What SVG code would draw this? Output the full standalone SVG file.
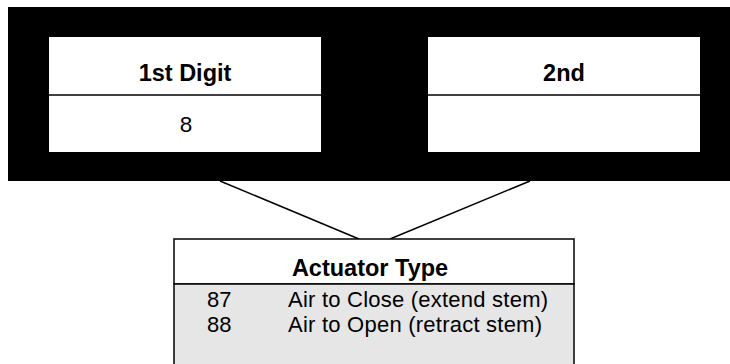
<svg xmlns="http://www.w3.org/2000/svg" width="730" height="364" viewBox="0 0 730 364">
<style>
.b{font-family:"Liberation Sans",Arial,sans-serif;font-weight:bold;font-size:23.5px;fill:#000}
.r{font-family:"Liberation Sans",Arial,sans-serif;font-size:22.5px;fill:#000}
.s{font-family:"Liberation Sans",Arial,sans-serif;font-size:22px;fill:#000}
.box{stroke:#000;stroke-width:1.5}
.ln{stroke:#000;stroke-width:1.5;fill:none}
</style>
<rect x="8" y="7" width="730" height="174" fill="#000"/>
<g id="connectors">
<line class="ln" x1="220" y1="181" x2="359" y2="239"/>
<line class="ln" x1="530" y1="181" x2="390" y2="239"/>
</g>
<g id="digit1">
<rect x="49" y="37" width="272" height="115" fill="#fff"/>
<line class="ln" x1="49" y1="95" x2="321" y2="95"/>
<text class="b" x="185" y="81" text-anchor="middle">1st Digit</text>
<text class="r" x="186" y="132" text-anchor="middle">8</text>
</g>
<g id="digit2">
<rect x="428" y="37" width="272" height="115" fill="#fff"/>
<line class="ln" x1="428" y1="95" x2="700" y2="95"/>
<text class="b" x="564" y="81" text-anchor="middle">2nd</text>
</g>
<g id="actuator">
<rect class="box" x="174" y="239" width="400" height="45" fill="#fff"/>
<rect class="box" x="174" y="284" width="400" height="90" fill="#e6e6e6"/>
<text class="b" x="370" y="276" text-anchor="middle">Actuator Type</text>
<text class="s" x="207" y="307">87</text>
<text class="s" x="288" y="307" textLength="260" lengthAdjust="spacing">Air to Close (extend stem)</text>
<text class="s" x="207" y="332">88</text>
<text class="s" x="288" y="332" textLength="254" lengthAdjust="spacing">Air to Open (retract stem)</text>
</g>
</svg>
